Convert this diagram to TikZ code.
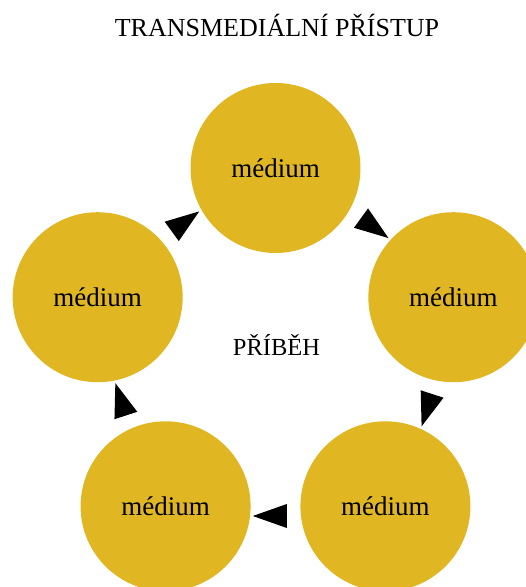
\documentclass[tikz,border=0pt]{standalone}
\usepackage{fontspec}
\setmainfont{Liberation Serif}
\usetikzlibrary{calc}
\definecolor{gold}{RGB}{224,183,34}
\tikzset{
  med/.style={circle, fill=gold, minimum size=170pt, inner sep=0pt,
    font=\fontsize{27}{31}\selectfont},
  lbl/.style={anchor=base, inner sep=0pt}
}
\begin{document}
\begin{tikzpicture}[x=1pt,y=1pt]
\useasboundingbox (0,0) rectangle (526,587);
\clip (0,0) rectangle (526,587);
\coordinate (c) at (275.5,232);
\node[med] (top) at ($(c)+(90:187)$) {médium};
\node[med] (right) at ($(c)+(18:187)$) {médium};
\node[med] (br) at ($(c)+(-54:187)$) {médium};
\node[med] (bl) at ($(c)+(-126:187)$) {médium};
\node[med] (left) at ($(c)+(162:187)$) {médium};
\node[lbl, font=\fontsize{26}{30}\selectfont] (title) at (277,550) {TRANSMEDIÁLNÍ PŘÍSTUP};
\node[lbl, font=\fontsize{24.5}{28}\selectfont] (story) at (276.5,231) {PŘÍBĚH};
\foreach \a in {126,54,-18,-90,198}{
  \fill[shift={($(c)+(\a:161)$)}, rotate=\a-90] (22.7,0) -- (-11.3,12) -- (-11.3,-12) -- cycle;
}
\end{tikzpicture}
\end{document}
